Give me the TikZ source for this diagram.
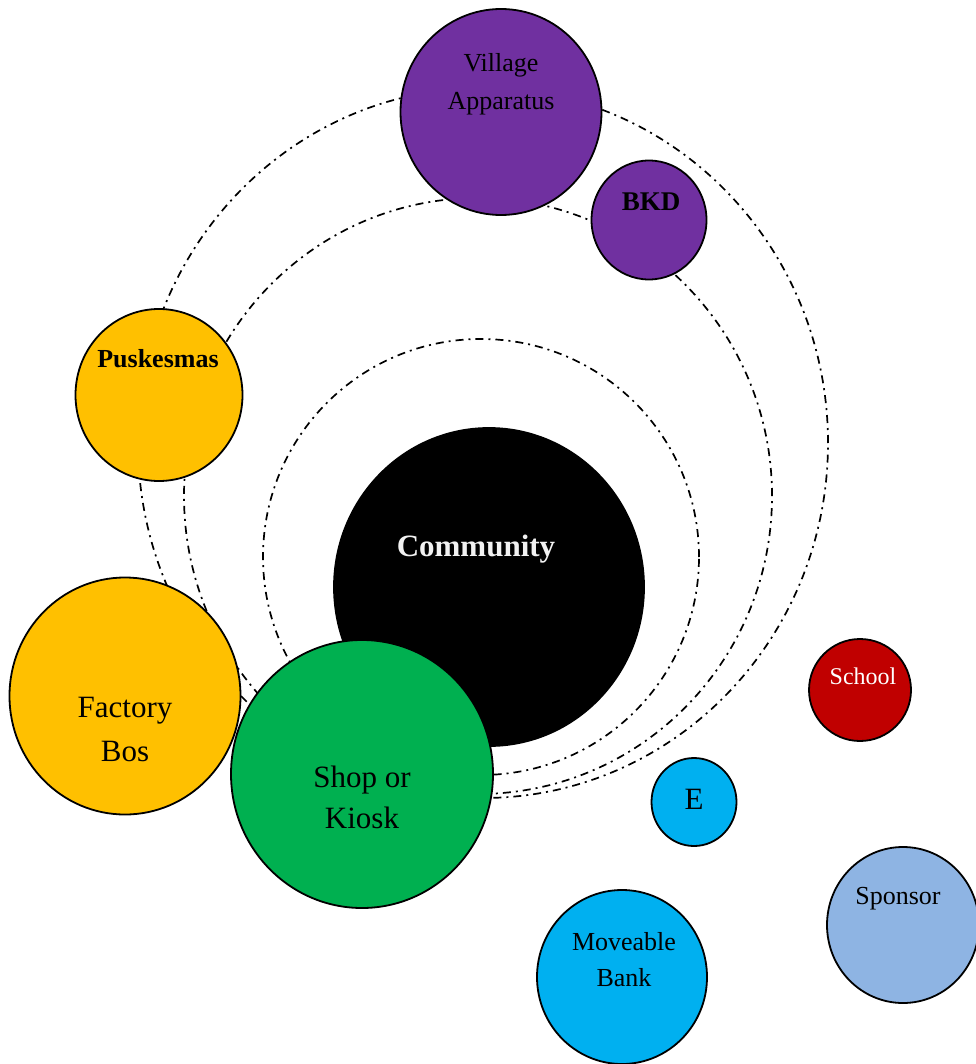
\documentclass[tikz,border=0pt]{standalone}
\usepackage{fontspec}
\setmainfont{Liberation Serif}
\usetikzlibrary{shapes.geometric}

\definecolor{violetfill}{HTML}{7030A0}
\definecolor{goldfill}{HTML}{FFC000}
\definecolor{greenfill}{HTML}{00B050}
\definecolor{redfill}{HTML}{C00000}
\definecolor{cyanfill}{HTML}{00B0F0}
\definecolor{skyfill}{HTML}{8EB4E3}
\definecolor{paletext}{HTML}{F2F2F2}

\begin{document}
\begin{tikzpicture}[x=1pt, y=-1pt,
    bubble/.style={ellipse, draw=black, line width=1.8pt, inner sep=0pt},
    orbit/.style={line width=1.7pt, dash pattern=on 8pt off 5pt on 2pt off 5pt},
    lbl/.style={align=center, anchor=base, inner sep=0pt}]
    \useasboundingbox (0,0) rectangle (975,1064);
    % orbits
    \draw[orbit] (481,557) circle [radius=218pt];
    \draw[orbit] (478,496) ellipse [x radius=294pt, y radius=298pt];
    \draw[orbit] (483,443) ellipse [x radius=345pt, y radius=355pt];
    % bubbles
    \node[bubble, fill=violetfill, minimum width=201pt, minimum height=206pt] (village) at (501,112) {};
    \node[bubble, fill=violetfill, minimum width=115pt, minimum height=119pt] (bkd) at (649,220) {};
    \node[bubble, fill=goldfill, minimum width=167pt, minimum height=172pt] (puskesmas) at (159,395) {};
    \node[bubble, fill=black, minimum width=310pt, minimum height=318pt] (community) at (489,587) {};
    \node[bubble, fill=goldfill, minimum width=231pt, minimum height=237pt] (factory) at (125,696) {};
    \node[bubble, fill=greenfill, minimum width=262pt, minimum height=268pt] (shop) at (362,774) {};
    \node[bubble, fill=redfill, minimum width=102pt, minimum height=102pt] (school) at (860,690) {};
    \node[bubble, fill=cyanfill, minimum width=85pt, minimum height=88pt] (e) at (694,802) {};
    \node[bubble, fill=skyfill, minimum width=152pt, minimum height=156pt] (sponsor) at (903,925) {};
    \node[bubble, fill=cyanfill, minimum width=170pt, minimum height=174pt] (bank) at (622,977) {};
    % labels (base = last line)
    \node[lbl, font=\fontsize{26}{38}\selectfont] (villagetxt) at (501,110) {Village\\Apparatus};
    \node[lbl, font=\fontsize{27}{32}\selectfont\bfseries] (bkdtxt) at (651,211) {BKD};
    \node[lbl, font=\fontsize{26}{32}\selectfont\bfseries] (puskesmastxt) at (158,367) {Puskesmas};
    \node[lbl, font=\fontsize{31}{36}\selectfont\bfseries, text=paletext] (communitytxt) at (476,556) {Community};
    \node[lbl, font=\fontsize{31}{44}\selectfont] (factorytxt) at (125,761) {Factory\\Bos};
    \node[lbl, font=\fontsize{31}{41}\selectfont] (shoptxt) at (362,828) {Shop or\\Kiosk};
    \node[lbl, font=\fontsize{24}{28}\selectfont, text=white] (schooltxt) at (863,684) {School};
    \node[lbl, font=\fontsize{31}{36}\selectfont] (etxt) at (694,809) {E};
    \node[lbl, font=\fontsize{26}{30}\selectfont] (sponsortxt) at (898,904) {Sponsor};
    \node[lbl, font=\fontsize{26}{36}\selectfont] (banktxt) at (624,986) {Moveable\\Bank};
\end{tikzpicture}
\end{document}
